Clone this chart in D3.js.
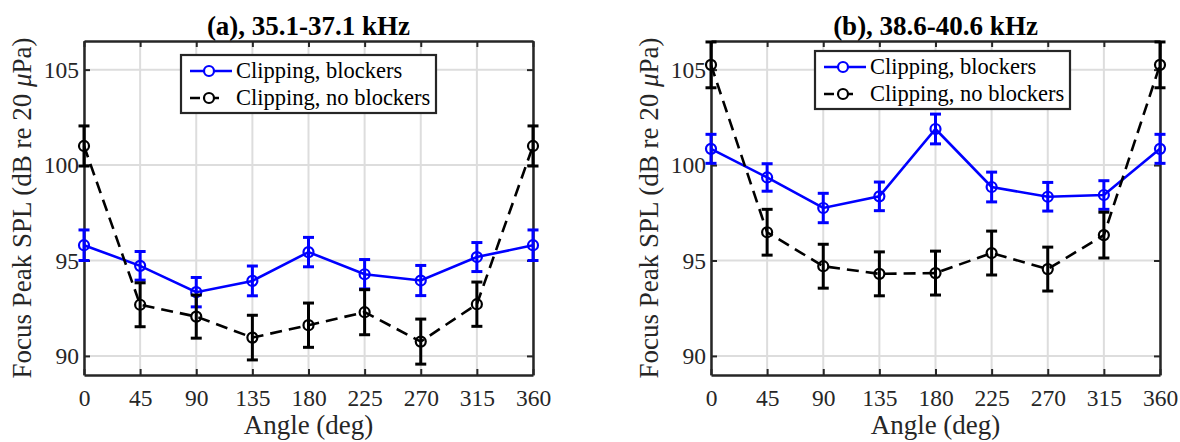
<!DOCTYPE html>
<html>
<head>
<meta charset="utf-8">
<script src="https://cdn.jsdelivr.net/npm/d3@7"></script>
<style>
    html, body { margin: 0; padding: 0; background: #ffffff; }
    svg text { font-family: 'Liberation Serif', 'Times New Roman', serif; fill: #262626; }
</style>
</head>
<body>
<svg id="chart" width="1180" height="442"></svg>
<script>

// angles (deg)
var angles = [ 0, 45, 90, 135, 180, 225, 270, 315, 360 ];
var xTicks = [ 0, 45, 90, 135, 180, 225, 270, 315, 360 ];
var yTicks = [ 90, 95, 100, 105 ];

var seriesNames = [ 'Clipping, blockers', 'Clipping, no blockers' ];

// (a) 35.1-37.1 kHz
var aBlockers = [ 95.8, 94.72, 93.34, 93.93, 95.44, 94.28, 93.95, 95.18, 95.8 ];
var aBlockersErr = [ 0.8, 0.75, 0.77, 0.78, 0.77, 0.77, 0.79, 0.76, 0.8 ];
var aNoBlockers = [ 101.0, 92.68, 92.06, 90.96, 91.61, 92.29, 90.75, 92.71, 101.0 ];
var aNoBlockersErr = [ 1.05, 1.15, 1.13, 1.17, 1.16, 1.18, 1.18, 1.16, 1.05 ];

// (b) 38.6-40.6 kHz
var bBlockers = [ 100.85, 99.35, 97.75, 98.36, 101.89, 98.85, 98.34, 98.43, 100.85 ];
var bBlockersErr = [ 0.76, 0.72, 0.77, 0.75, 0.78, 0.78, 0.75, 0.75, 0.76 ];
var bNoBlockers = [ 105.25, 96.48, 94.7, 94.3, 94.34, 95.39, 94.55, 96.33, 105.25 ];
var bNoBlockersErr = [ 1.2, 1.2, 1.15, 1.15, 1.15, 1.15, 1.15, 1.2, 1.2 ];

var axisColor = '#262626';

var svg = d3.select('#chart');

function drawPanel ( opts ) {

    var x = d3.scaleLinear()
        .domain([ 0, 360 ])
        .range([ opts.left, opts.right ]);

    var y = d3.scaleLinear()
        .domain([ 89, 106.5 ])
        .range([ 375, 41 ]);

    var g = svg.append('g');

    // grid
    g.selectAll('.gx')
        .data( xTicks )
        .enter().append('line')
        .attr('x1', function ( d ) { return x( d ); })
        .attr('x2', function ( d ) { return x( d ); })
        .attr('y1', y.range()[1])
        .attr('y2', y.range()[0])
        .style('stroke', '#dddddd')
        .style('stroke-width', 2);

    g.selectAll('.gy')
        .data( yTicks )
        .enter().append('line')
        .attr('x1', opts.left)
        .attr('x2', opts.right)
        .attr('y1', function ( d ) { return y( d ); })
        .attr('y2', function ( d ) { return y( d ); })
        .style('stroke', '#dddddd')
        .style('stroke-width', 2);

    // axes (box with inward ticks)
    var bottom = d3.axisBottom( x ).tickValues( xTicks ).tickSizeInner( -6 ).tickSizeOuter( 0 ).tickPadding( 14 );
    var top = d3.axisTop( x ).tickValues( xTicks ).tickSizeInner( -6 ).tickSizeOuter( 0 ).tickFormat('');
    var leftAx = d3.axisLeft( y ).tickValues( yTicks ).tickSizeInner( -6 ).tickSizeOuter( 0 ).tickPadding( 5 );
    var rightAx = d3.axisRight( y ).tickValues( yTicks ).tickSizeInner( -6 ).tickSizeOuter( 0 ).tickFormat('');

    var axes = [
        g.append('g').attr('transform', 'translate(0,375)').call( bottom ),
        g.append('g').attr('transform', 'translate(0,41)').call( top ),
        g.append('g').attr('transform', 'translate(' + opts.left + ',0)').call( leftAx ),
        g.append('g').attr('transform', 'translate(' + opts.right + ',0)').call( rightAx )
    ];

    axes.forEach( function ( a ) {
        a.select('.domain').style('stroke', axisColor).style('stroke-width', 2.5);
        a.selectAll('.tick line').style('stroke', axisColor).style('stroke-width', 2);
        a.selectAll('.tick text')
            .style('font-family', "'Liberation Serif', 'Times New Roman', serif")
            .style('font-size', '23.5px')
            .style('fill', axisColor);
    });

    // data, blue first then black on top
    var series = [
        { values: opts.blockers, err: opts.blockersErr, color: '#0000ff', dash: null },
        { values: opts.noBlockers, err: opts.noBlockersErr, color: '#000000', dash: '12,7' }
    ];

    var line = d3.line()
        .x( function ( d ) { return x( d.angle ); })
        .y( function ( d ) { return y( d.value ); });

    series.forEach( function ( s ) {

        var pts = angles.map( function ( a, i ) {
            return { angle: a, value: s.values[ i ], err: s.err[ i ] };
        });

        var eb = g.append('g');

        eb.selectAll('.bar')
            .data( pts )
            .enter().append('line')
            .attr('x1', function ( d ) { return x( d.angle ); })
            .attr('x2', function ( d ) { return x( d.angle ); })
            .attr('y1', function ( d ) { return y( d.value - d.err ); })
            .attr('y2', function ( d ) { return y( d.value + d.err ); })
            .style('stroke', s.color)
            .style('stroke-width', 3);

        [ -1, 1 ].forEach( function ( sign ) {
            eb.selectAll('.cap')
                .data( pts )
                .enter().append('line')
                .attr('x1', function ( d ) { return x( d.angle ) - 5.5; })
                .attr('x2', function ( d ) { return x( d.angle ) + 5.5; })
                .attr('y1', function ( d ) { return y( d.value + sign * d.err ); })
                .attr('y2', function ( d ) { return y( d.value + sign * d.err ); })
                .style('stroke', s.color)
                .style('stroke-width', 3);
        });

        g.append('path')
            .datum( pts )
            .attr('d', line)
            .style('fill', 'none')
            .style('stroke', s.color)
            .style('stroke-width', 2.6)
            .style('stroke-dasharray', s.dash);

        g.selectAll('.mk')
            .data( pts )
            .enter().append('circle')
            .attr('cx', function ( d ) { return x( d.angle ); })
            .attr('cy', function ( d ) { return y( d.value ); })
            .attr('r', 5)
            .style('fill', 'none')
            .style('stroke', s.color)
            .style('stroke-width', 2.2);

    });

    // title
    svg.append('text')
        .attr('x', ( opts.left + opts.right ) / 2)
        .attr('y', 35)
        .attr('text-anchor', 'middle')
        .style('font-size', '27px')
        .style('font-weight', 'bold')
        .style('fill', '#000')
        .text( opts.title );

    // x label
    svg.append('text')
        .attr('x', ( opts.left + opts.right ) / 2)
        .attr('y', 434)
        .attr('text-anchor', 'middle')
        .style('font-size', '27px')
        .text('Angle (deg)');

    // y label
    var yl = svg.append('text')
        .attr('transform', 'translate(' + ( opts.left - 53 ) + ',208) rotate(-90)')
        .attr('text-anchor', 'middle')
        .style('font-size', '27px');

    yl.append('tspan').text('Focus Peak SPL (dB re 20 ');
    yl.append('tspan').style('font-style', 'italic').text('\u03bc');
    yl.append('tspan').text('Pa)');

    // legend
    var lg = svg.append('g')
        .attr('transform', 'translate(' + opts.legendX + ',' + opts.legendY + ')');

    lg.append('rect')
        .attr('width', 255)
        .attr('height', 58)
        .style('fill', '#ffffff')
        .style('stroke', axisColor)
        .style('stroke-width', 2.2);

    series.forEach( function ( s, i ) {

        var ly = 16 + i * 27;

        lg.append('line')
            .attr('x1', 9)
            .attr('x2', s.dash ? 39 : 51)
            .attr('y1', ly)
            .attr('y2', ly)
            .style('stroke', s.color)
            .style('stroke-width', 2.6)
            .style('stroke-dasharray', s.dash ? '10,9' : null);

        lg.append('circle')
            .attr('cx', 28)
            .attr('cy', ly)
            .attr('r', 5)
            .style('fill', '#ffffff')
            .style('stroke', s.color)
            .style('stroke-width', 2.2);

        lg.append('text')
            .attr('x', 55)
            .attr('y', ly)
            .attr('dy', '0.33em')
            .style('font-size', '22.5px')
            .style('fill', '#000')
            .text( seriesNames[ i ] );

    });

}

drawPanel({
    left: 84, right: 533,
    title: '(a), 35.1-37.1 kHz',
    blockers: aBlockers, blockersErr: aBlockersErr,
    noBlockers: aNoBlockers, noBlockersErr: aNoBlockersErr,
    legendX: 181, legendY: 55
});

drawPanel({
    left: 711, right: 1160,
    title: '(b), 38.6-40.6 kHz',
    blockers: bBlockers, blockersErr: bBlockersErr,
    noBlockers: bNoBlockers, noBlockersErr: bNoBlockersErr,
    legendX: 815, legendY: 51
});

</script>
</body>
</html>
